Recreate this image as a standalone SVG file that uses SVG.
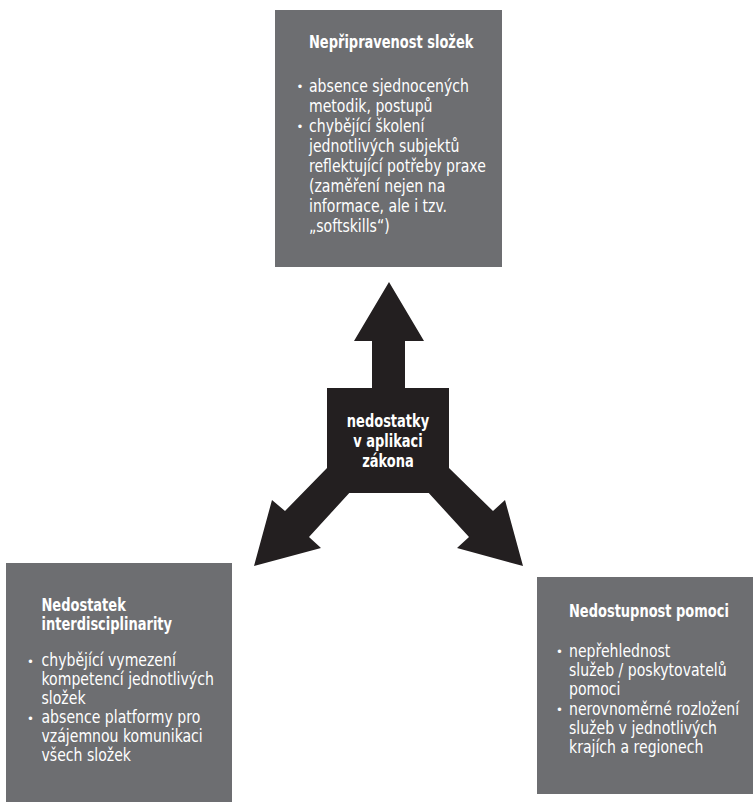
<svg xmlns="http://www.w3.org/2000/svg" width="753" height="802" viewBox="0 0 753 802">
<style>
.box{fill:#6d6e71}
.blk{fill:#231f20}
text{font-family:"DejaVu Sans Condensed","Liberation Sans Narrow","Liberation Sans",sans-serif;font-stretch:condensed;fill:#fff;font-size:17px}
.t{font-weight:bold;font-size:17px}
.c{font-weight:bold;font-size:17px;text-anchor:middle}
.b{font-size:13px}
</style>
<rect width="753" height="802" fill="#fff"/>
<g id="connectors">
<path class="blk" d="M389,282 L424,341 L405,341 L405,392 L372,392 L372,341 L354,341 Z"/>
<path class="blk" d="M327,468 L285,511 L272,500 L254,566 L321,548 L309,537 L352,490 Z"/>
<path class="blk" d="M449,468 L493,511 L505,500 L523,566 L457,548 L469,537 L426,490 Z"/>
</g>
<g id="center">
<rect class="blk" x="327" y="388" width="122" height="105"/>
<g transform="translate(388,0) scale(0.85,1)">
<text class="c" x="0" y="427">nedostatky</text>
<text class="c" x="0" y="447">v aplikaci</text>
<text class="c" x="0" y="467">zákona</text>
</g>
</g>
<g id="top">
<rect class="box" x="275" y="10" width="227" height="257"/>
<text class="t" transform="translate(309,48) scale(0.85,1)">Nepřipravenost složek</text>
<text class="b" x="296.5" y="91">•</text>
<text class="b" x="296.5" y="131">•</text>
<g transform="translate(309,0) scale(0.92,1)">
<text x="0" y="92">absence sjednocených</text>
<text x="0" y="112">metodik, postupů</text>
<text x="0" y="132">chybějící školení</text>
<text x="0" y="152">jednotlivých subjektů</text>
<text x="0" y="172">reflektující potřeby praxe</text>
<text x="0" y="192">(zaměření nejen na</text>
<text x="0" y="212">informace, ale i tzv.</text>
<text x="0" y="232">„softskills“)</text>
</g>
</g>
<g id="left">
<rect class="box" x="6" y="563" width="226" height="239"/>
<text class="t" transform="translate(41.5,611) scale(0.85,1)">Nedostatek</text>
<text class="t" transform="translate(41.5,630) scale(0.85,1)">interdisciplinarity</text>
<text class="b" x="27" y="665.5">•</text>
<text class="b" x="27" y="722.5">•</text>
<g transform="translate(41.5,0) scale(0.92,1)">
<text x="0" y="666.5">chybějící vymezení</text>
<text x="0" y="685.5">kompetencí jednotlivých</text>
<text x="0" y="704.5">složek</text>
<text x="0" y="723.5">absence platformy pro</text>
<text x="0" y="742.5">vzájemnou komunikaci</text>
<text x="0" y="761.5">všech složek</text>
</g>
</g>
<g id="right">
<rect class="box" x="537" y="577" width="216" height="217"/>
<text class="t" transform="translate(569,616.5) scale(0.85,1)">Nedostupnost pomoci</text>
<text class="b" x="556" y="656">•</text>
<text class="b" x="556" y="714">•</text>
<g transform="translate(569,0) scale(0.92,1)">
<text x="0" y="657">nepřehlednost</text>
<text x="0" y="676.2">služeb / poskytovatelů</text>
<text x="0" y="695.4">pomoci</text>
<text x="0" y="714.6">nerovnoměrné rozložení</text>
<text x="0" y="733.8">služeb v jednotlivých</text>
<text x="0" y="753">krajích a regionech</text>
</g>
</g>
</svg>
